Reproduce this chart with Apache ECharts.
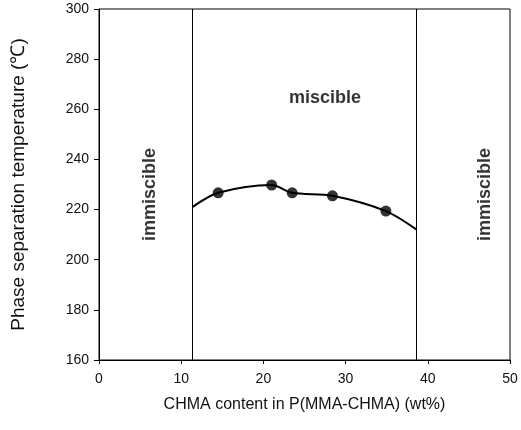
<!DOCTYPE html>
<html>
<head>
<meta charset="utf-8">
<script src="https://cdn.jsdelivr.net/npm/echarts@6/dist/echarts.min.js"></script>
<style>html,body{margin:0;padding:0;background:#fff}#c{width:521px;height:430px}</style>
</head>
<body>
<div id="c"></div>
<script>
const xTicks = [0, 10, 20, 30, 40, 50];
const yTicks = [160, 180, 200, 220, 240, 260, 280, 300];
const pointX = [14.5, 21.0, 23.5, 28.4, 34.9];
const pointY = [226.7, 229.8, 226.7, 225.5, 219.4];
const curveX = [11.4, 14.5, 21.0, 23.5, 28.4, 34.9, 38.6];
const curveY = [221.1, 226.7, 229.8, 226.7, 225.5, 219.4, 212.1];
const boundaries = [11.4, 38.6];
const regionLabels = ['immiscible', 'miscible', 'immiscible'];
const regionX = [6.2, 27.5, 47.0];
const regionY = [226, 264.5, 226];

const font = 'Liberation Sans, Arial, Helvetica, sans-serif';
const chart = echarts.init(document.getElementById('c'));
chart.setOption({
  animation: false,
  backgroundColor: '#fff',
  grid: { left: 99, right: 11, top: 9, bottom: 70, show: true, borderColor: '#000', borderWidth: 1 },
  xAxis: {
    type: 'value', min: xTicks[0], max: xTicks[xTicks.length - 1], interval: 10,
    name: 'CHMA content in P(MMA-CHMA) (wt%)', nameLocation: 'middle', nameGap: 37,
    nameTextStyle: { fontFamily: font, fontSize: 16, color: '#111' },
    axisLine: { lineStyle: { color: '#000', width: 1 } },
    axisTick: { show: true, length: 4, lineStyle: { color: '#000' } },
    axisLabel: { fontFamily: font, fontSize: 14, color: '#111', margin: 12 },
    splitLine: { show: false }
  },
  yAxis: {
    type: 'value', min: yTicks[0], max: yTicks[yTicks.length - 1], interval: 20,
    name: 'Phase separation temperature (℃)', nameLocation: 'middle', nameGap: 71,
    nameTextStyle: { fontFamily: font, fontSize: 19, color: '#111' },
    axisLine: { show: true, lineStyle: { color: '#000', width: 1 } },
    axisTick: { show: true, length: 5, lineStyle: { color: '#000' } },
    axisLabel: { fontFamily: font, fontSize: 14, color: '#111', margin: 10 },
    splitLine: { show: false }
  },
  series: [
    {
      type: 'line', data: curveX.map((x, i) => [x, curveY[i]]), smooth: 0.3,
      showSymbol: false, symbol: 'none', lineStyle: { color: '#000', width: 2 },
      markLine: {
        silent: true, symbol: 'none', label: { show: false },
        lineStyle: { color: '#000', width: 1, type: 'solid' },
        data: boundaries.map(b => ({ xAxis: b }))
      }
    },
    {
      type: 'scatter', data: pointX.map((x, i) => [x, pointY[i]]),
      symbol: 'circle', symbolSize: 11, itemStyle: { color: '#000' }, z: 5
    },
    {
      type: 'scatter', symbolSize: 0,
      data: regionLabels.map((t, i) => ({
        value: [regionX[i], regionY[i]], name: t,
        label: { rotate: i === 1 ? 0 : 90 }
      })),
      label: {
        show: true, position: 'inside', formatter: p => p.name,
        fontFamily: font, fontWeight: 'bold', fontSize: 18, color: '#000'
      }
    }
  ]
});
</script>
</body>
</html>
